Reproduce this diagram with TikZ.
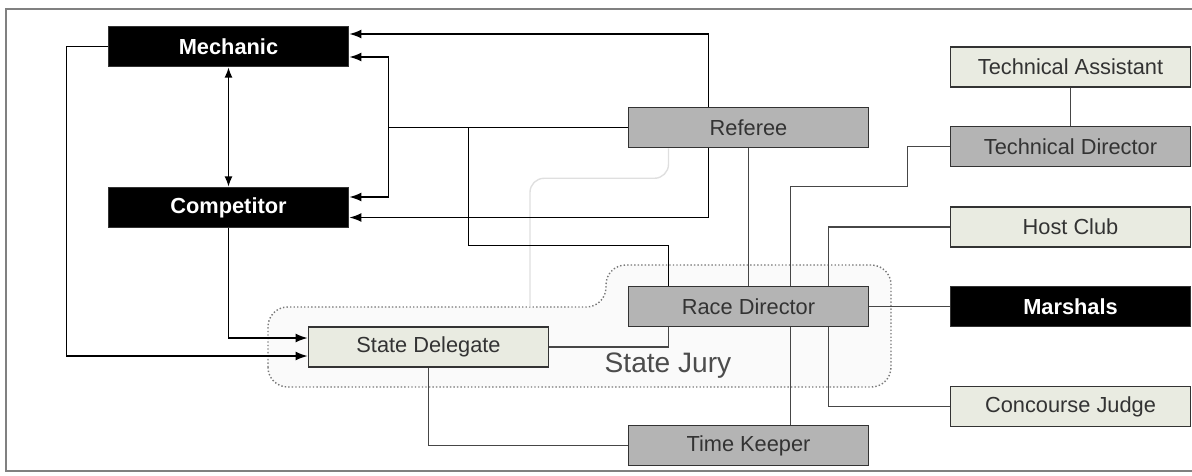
\documentclass[tikz,border=0pt]{standalone}
\usepackage{fontspec}
\setmainfont{Liberation Sans}
\usetikzlibrary{arrows.meta, positioning, calc, backgrounds}
\definecolor{boxgray}{RGB}{180,180,180}
\definecolor{boxpale}{RGB}{233,235,225}
\definecolor{linegray}{RGB}{70,70,70}
\definecolor{jurygray}{RGB}{120,120,120}

\begin{document}
\begin{tikzpicture}[
  x=0.025cm, y=-0.025cm,
  box/.style={draw=black!80, line width=1.1pt, minimum width=6cm, minimum height=1cm,
              inner sep=0pt, font=\fontsize{15.5}{18}\selectfont, text=black!80},
  dark/.style={box, fill=black, text=white, font=\fontsize{15.5}{18}\selectfont\bfseries},
  mid/.style={box, fill=boxgray},
  pale/.style={box, fill=boxpale},
  link/.style={draw=linegray, line width=1.1pt},
  arrow/.style={draw=black, line width=1.1pt, -{Latex[length=0.3cm,width=0.22cm]}},
  twoway/.style={draw=black, line width=1.1pt, {Latex[length=0.26cm,width=0.2cm]}-{Latex[length=0.26cm,width=0.2cm]}}
]
\useasboundingbox (0,0) rectangle (1192,475);
\draw[gray, line width=1.2pt] (6,9) rectangle (1215,471);

% Left column
\node[dark] (mech) at (228.5,46.5) {Mechanic};
\node[dark] (comp) at (228.5,207.5) {Competitor};
\node[pale] (sd) at (428.5,347) {State Delegate};

% Middle column
\node[mid] (ref) at (748.5,127.5) {Referee};
\node[mid] (rd) at (748.5,306.5) {Race Director};
\node[mid] (tk) at (748.5,445.5) {Time Keeper};

% Right column
\node[pale] (ta) at (1070.5,67) {Technical Assistant};
\node[mid] (td) at (1070.5,146.5) {Technical Director};
\node[pale] (host) at (1070.5,227) {Host Club};
\node[dark] (mar) at (1070.5,306.5) {Marshals};
\node[pale] (cj) at (1070.5,406.5) {Concourse Judge};

\begin{scope}[on background layer]
% State Jury group
\draw[jurygray, line width=1pt, dash pattern=on 1pt off 1.5pt, rounded corners=14, fill=gray!4]
  (268,387) -- (268,307) -- (606,307) -- (606,265) -- (891,265) -- (891,387) -- cycle;
\coordinate (juryedge) at (530,307);
\draw[gray!25, line width=1pt, rounded corners=10] ($(ref.south)+(-80,0)$) |- ++(-60,30) -| (juryedge);

% Referee links
\draw[arrow] ($(ref.north)+(-40,0)$) |- ($(mech.east)+(0,-12.5)$);
\draw[arrow] ($(ref.south)+(-40,0)$) |- ($(comp.east)+(0,10)$);
\draw[draw=black, line width=1.3pt] (ref.west) -- ++(-239,0) coordinate (busL);
\draw[arrow] (busL) |- ($(mech.east)+(0,10.5)$);
\draw[arrow] (busL) |- ($(comp.east)+(0,-10.5)$);
\path (ref.west) -- ++(-159,0) coordinate (busM);
\draw[draw=black, line width=1.1pt] (busM) |- ($(rd.north)+(-80,-40)$) -- ($(rd.north)+(-80,0)$);
\draw[link] (ref.south) -- (rd.north);

% Left side links
\draw[twoway] (mech.south) -- (comp.north);
\draw[arrow] (mech.west) -- ++(-41,0) |- ($(sd.west)+(0,9)$);
\draw[arrow] (comp.south) |- ($(sd.west)+(0,-9)$);
\draw[link] (sd.east) -| ($(rd.south)+(-80,0)$);
\draw[link] (sd.south) |- (tk.west);

% Right side links
\draw[link] (ta.south) -- (td.north);
\draw[link] (td.west) -- ++(-42,0) |- ($(tk.north)+(42,-238)$) -- ($(tk.north)+(42,0)$);
\draw[link] (host.west) -| ($(rd.north)+(80,0)$);
\draw[link] ($(rd.south)+(80,0)$) |- (cj.west);
\draw[link] (rd.east) -- (mar.west);
\end{scope}

\node[text=black!70, font=\fontsize{20}{24}\selectfont] (jury) at (668,366) {State Jury};

\end{tikzpicture}
\end{document}
